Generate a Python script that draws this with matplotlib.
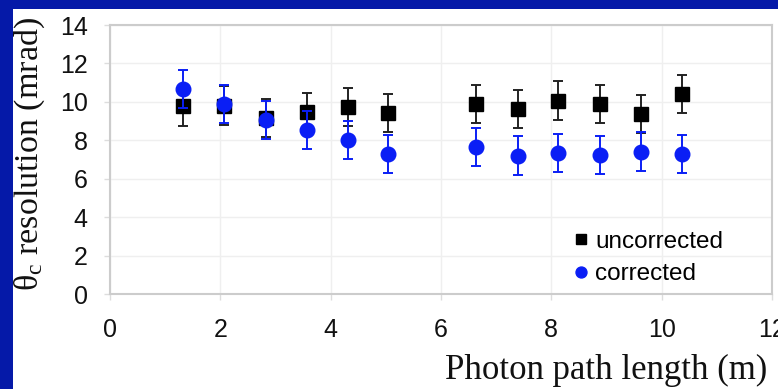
import matplotlib
matplotlib.use("Agg")
import matplotlib.pyplot as plt
from matplotlib.patches import Rectangle

# Data
path_length = [1.32, 2.07, 2.82, 3.57, 4.32, 5.04, 6.64, 7.40, 8.12, 8.88, 9.62, 10.37]
uncorrected = [9.76, 9.80, 9.15, 9.45, 9.72, 9.41, 9.88, 9.64, 10.07, 9.90, 9.38, 10.42]
uncorrected_err = [1.0, 1.0, 1.0, 1.0, 1.0, 1.0, 1.0, 1.0, 1.0, 1.0, 1.0, 1.0]
corrected = [10.66, 9.88, 9.07, 8.54, 8.02, 7.29, 7.64, 7.20, 7.33, 7.24, 7.41, 7.29]
corrected_err = [1.0, 1.0, 1.0, 1.0, 1.0, 1.0, 1.0, 1.0, 1.0, 1.0, 1.0, 1.0]
x_ticks = [0, 2, 4, 6, 8, 10, 12]
y_ticks = [0, 2, 4, 6, 8, 10, 12, 14]

plt.rcParams['mathtext.fontset'] = 'custom'
plt.rcParams['mathtext.rm'] = 'Liberation Serif'
plt.rcParams['mathtext.it'] = 'Liberation Serif:italic'

W, H = 778, 389
fig = plt.figure(figsize=(W / 100, H / 100), dpi=100, facecolor='#0519a8')
fig.patches.append(Rectangle((13 / W, 0), 1 - 13 / W, (H - 9) / H,
                             transform=fig.transFigure, facecolor='white',
                             edgecolor='none', zorder=-10))

ax = fig.add_axes([110 / W, (H - 294) / H, (772 - 110) / W, (294 - 25) / H])
ax.set_facecolor('white')

blue = '#0a1ef5'
ax.errorbar(path_length, uncorrected, yerr=uncorrected_err, fmt='s', color='black',
            ecolor='#222222', elinewidth=1.4, capsize=3.5, capthick=1.4,
            markersize=9.5, label='uncorrected', zorder=3)
ax.errorbar(path_length, corrected, yerr=corrected_err, fmt='o', color=blue,
            ecolor=blue, elinewidth=1.4, capsize=3.5, capthick=1.4,
            markersize=10.5, label='corrected', zorder=4)

ax.set_xlim(0, 12)
ax.set_ylim(0, 14)
ax.set_xticks(x_ticks)
ax.set_yticks(y_ticks)
ax.grid(True, color='#efefef', linewidth=1.0, zorder=0)
ax.set_axisbelow(True)
for s in ax.spines.values():
    s.set_color('#cccccc')
    s.set_linewidth(1.5)

ax.tick_params(axis='both', colors='#dddddd', length=4, width=1, labelcolor='#111111',
               labelsize=18)
ax.tick_params(axis='x', pad=13)
ax.tick_params(axis='y', pad=12)
for lab in ax.get_xticklabels() + ax.get_yticklabels():
    lab.set_fontfamily('Liberation Sans')

ax.set_xlabel('Photon path length (m)', fontfamily='Liberation Serif', fontsize=25,
              color='#111111', va='center')
ax.xaxis.set_label_coords(0.749, -0.283)
ax.set_ylabel(r'θ$_{\mathrm{c}}$ resolution (mrad)', fontfamily='Liberation Serif',
              fontsize=24.5, color='#111111', va='center')
ax.yaxis.set_label_coords(-0.121, 0.522)

handles, labels = ax.get_legend_handles_labels()
handles = [h[0] for h in handles]
leg = ax.legend(handles, labels, loc='upper left', bbox_to_anchor=(0.700, 0.236),
                frameon=False, prop={'family': 'Liberation Sans', 'size': 17.5},
                handlelength=0.6, handletextpad=0.3, labelspacing=0.45,
                borderpad=0, borderaxespad=0, markerscale=0.75)

fig.savefig('out.png', dpi=100, facecolor=fig.get_facecolor())
